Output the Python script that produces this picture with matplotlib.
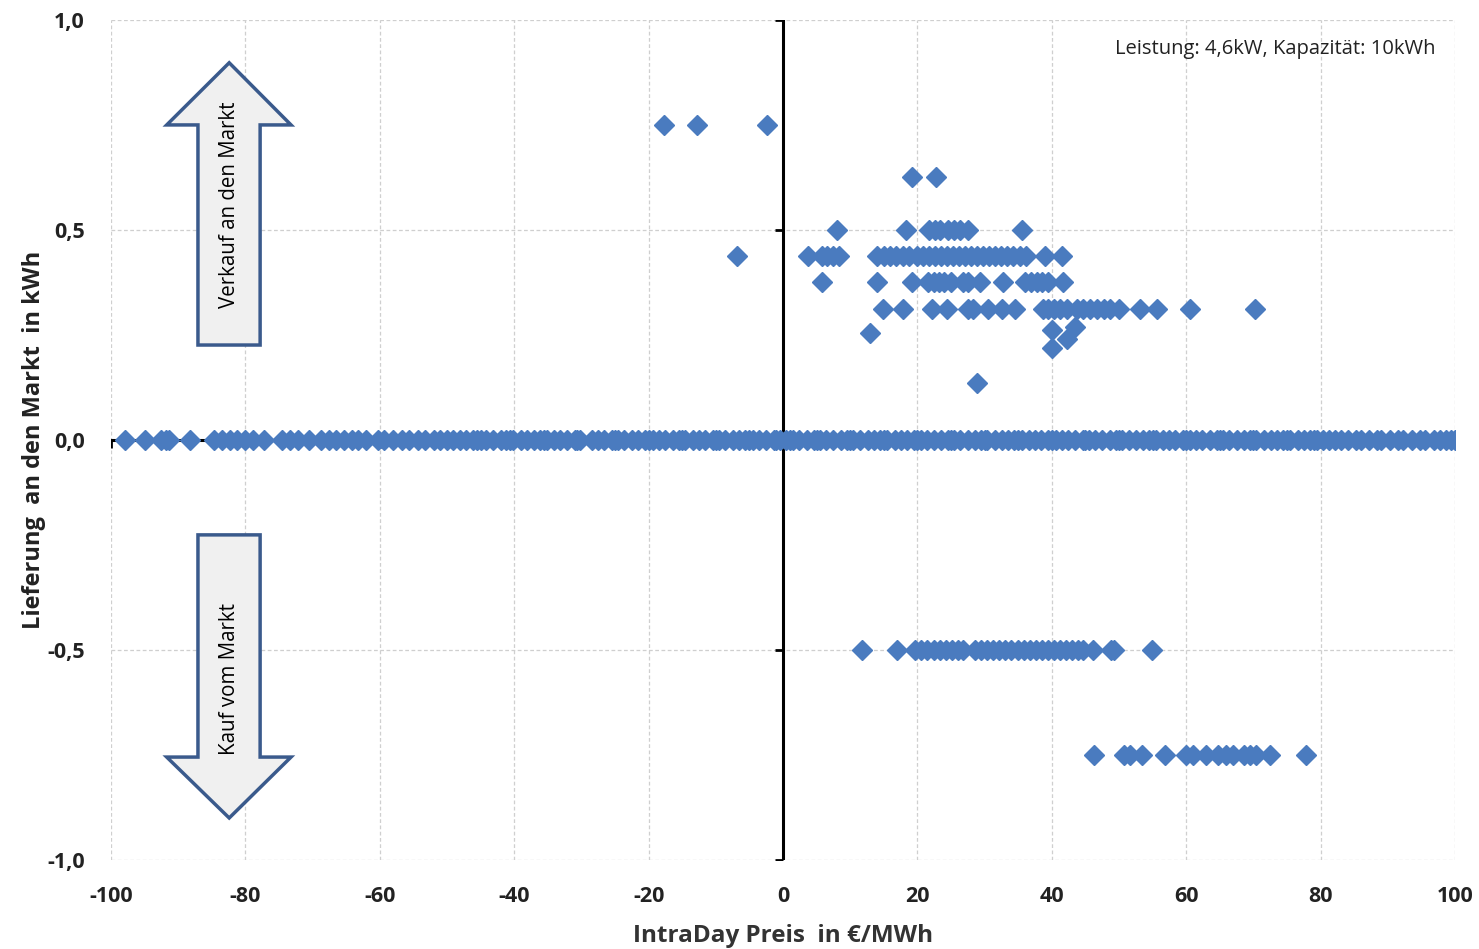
import matplotlib.pyplot as plt
from matplotlib.patches import Polygon

plt.rcParams['font.family'] = ['Open Sans', 'DejaVu Sans']

# Lieferung = 0 (the long row along the x axis)
zero_x = [-97.9, -94.9, -92.6, -91.8, -91.3, -88.2, -84.6, -83.5, -82.3, -81.2, -80.0, -78.9,
          -77.2, -74.5, -73.4, -72.1, -70.6, -68.8, -67.6, -66.5, -65.3, -64.2, -63.2, -62.1,
          -60.2, -59.3, -58.0, -56.7, -55.6, -54.3, -53.2, -51.9, -51.0,
          -50.0, -49.1, -48.0, -47.2, -46.1, -45.0, -44.2, -43.1, -42.0, -41.2, -40.1, -39.0,
          -38.1, -37.0, -36.2, -35.1, -34.0, -33.2, -32.1, -31.0, -30.2, -28.4, -27.5, -26.6,
          -25.4, -24.5, -23.6, -22.4, -21.5, -20.6, -19.4, -18.5, -17.6, -16.4, -15.5, -14.6,
          -13.4, -12.5, -11.6, -10.4, -9.5, -8.6, -7.4, -6.5, -5.6, -4.4, -3.5, -2.6, -1.4,
          -0.5, 0.4, 1.5, 2.4, 3.5, 4.6, 5.5, 6.4, 7.5, 8.6, 9.5, 10.4, 11.5, 12.6, 13.5,
          14.4, 15.5, 16.6, 17.5, 18.4, 19.5, 20.6, 21.5, 22.4, 23.5, 24.6, 25.5, 26.4, 27.5,
          28.6, 29.5, 30.4, 31.5, 32.6, 33.5, 34.4, 35.5, 36.6, 37.5, 38.4, 39.5, 40.6, 41.5,
          42.4, 43.5, 44.6, 45.5, 46.4, 47.5, 48.6, 49.5, 50.4, 51.5, 52.6, 53.5, 54.4, 55.5,
          56.6, 57.5, 58.4, 59.5, 60.6, 61.5, 62.4, 63.5, 64.6, 65.5, 66.4, 67.5, 68.6, 69.5,
          70.4, 71.5, 72.6, 73.5, 74.4, 75.5, 76.6, 77.5, 78.4, 79.5, 80.4, 81.2, 82.2, 83.0,
          84.1, 85.3, 86.0, 87.2, 88.4, 89.0, 90.3, 91.5, 92.2, 93.6, 94.8, 95.5, 96.9, 97.8,
          98.6, 99.4, 100.0]
# extra overlapping prices in the busiest stretch of the zero row
zero_x_dense = [-45.6, -40.6, -35.6, -30.6, -25.0, -20.0, -15.0, -10.0, -5.0, -1.0, 1.0,
                5.0, 10.0, 15.0, 20.0, 25.0, 30.0, 35.0, 40.0, 45.0, 50.0, 55.0, 60.0, 65.0,
                70.0, 75.0, 79.0]

# Verkauf (positive rows)
x_075 = [-17.7, -12.8, -2.4]
x_0625 = [19.2, 22.8]
x_05 = [8.0, 18.3, 21.7, 22.6, 23.4, 24.5, 25.4, 26.4, 27.6, 35.6]
x_04375 = [-6.8, 3.7, 5.8, 6.6, 7.4, 8.3, 14.0, 15.0, 15.9, 16.8, 17.8, 18.8, 19.9, 20.8,
           21.7, 22.6, 23.5, 24.4, 25.3, 26.2, 27.1, 28.0, 28.9, 29.8, 30.7, 31.6, 32.5,
           33.4, 34.3, 35.2, 36.2, 39.0, 41.5]
x_0375 = [5.8, 14.0, 19.2, 21.6, 22.4, 23.2, 24.0, 25.0, 26.8, 27.6, 29.3, 32.7, 36.0,
          36.9, 37.8, 38.6, 39.4, 41.7]
x_03125 = [14.9, 17.9, 22.2, 24.4, 27.6, 28.2, 30.5, 32.6, 34.5, 38.7, 39.5, 40.3, 41.2,
           42.3, 43.8, 44.7, 45.7, 46.7, 47.7, 48.7, 50.0, 53.1, 55.7, 60.6, 70.2]
x_misc = [12.9, 40.0, 43.5, 42.3, 40.0, 28.9]
y_misc = [0.255, 0.262, 0.27, 0.24, 0.22, 0.135]

# Kauf (negative rows)
x_m05 = [11.7, 16.9, 19.7, 20.6, 21.5, 22.4, 23.3, 24.2, 25.1, 26.0, 26.8, 28.6, 29.5,
         30.4, 31.3, 32.2, 33.1, 34.0, 34.9, 35.8, 36.7, 37.6, 38.5, 39.4, 40.3, 41.2,
         42.1, 43.0, 43.9, 44.6, 46.1, 48.8, 49.3, 54.9]
x_m075 = [46.3, 50.7, 51.6, 53.4, 56.8, 60.0, 61.0, 62.9, 64.7, 65.9, 66.9, 68.6, 69.5,
          70.4, 72.5, 77.8]

zero_all = zero_x + zero_x_dense
px = (zero_all + x_075 + x_0625 + x_05 + x_04375 + x_0375 + x_03125 + x_misc + x_m05 + x_m075)
py = ([0.0] * len(zero_all) + [0.75] * len(x_075) + [0.625] * len(x_0625) + [0.5] * len(x_05)
      + [0.4375] * len(x_04375) + [0.375] * len(x_0375) + [0.3125] * len(x_03125) + y_misc
      + [-0.5] * len(x_m05) + [-0.75] * len(x_m075))

xticks = [-100, -80, -60, -40, -20, 0, 20, 40, 60, 80, 100]
yticks = [-1.0, -0.5, 0.0, 0.5, 1.0]
ytick_labels = ['-1,0', '-0,5', '0,0', '0,5', '1,0']

fig = plt.figure(figsize=(14.79, 9.49), dpi=100)
ax = fig.add_axes([0.075, 0.0938, 0.9088, 0.8852])

ax.set_xlim(-100, 100)
ax.set_ylim(-1, 1)
for s in ax.spines.values():
    s.set_visible(False)

ax.grid(True, color='#cfcfcf', linestyle=(0, (3, 2)), linewidth=0.9)
ax.set_axisbelow(True)

# axes crossing at zero, like Excel
ax.axvline(0, color='black', lw=2.2, zorder=2)
ax.axhline(0, color='black', lw=2.2, zorder=2)
ax.plot([0] * len(yticks), yticks, ls='none', marker=0, ms=6, mew=2, color='black', zorder=2)
ax.plot(xticks, [0] * len(xticks), ls='none', marker=3, ms=6, mew=2, color='black', zorder=2)

ax.plot(px, py, ls='none', marker='D', ms=10.3, color='#4a7bbf', mec='#4a7bbf', zorder=3)

ax.set_xticks(xticks)
ax.set_xticklabels([str(t) for t in xticks])
ax.set_yticks(yticks)
ax.set_yticklabels(ytick_labels)
ax.tick_params(length=0, labelsize=15.5, pad=19, colors='#222222')
for lab in ax.get_xticklabels() + ax.get_yticklabels():
    lab.set_fontweight('bold')

ax.set_xlabel('IntraDay Preis  in €/MWh', fontsize=17.5, fontweight='bold', color='#333333', labelpad=12)
ax.set_ylabel('Lieferung  an den Markt  in kWh', fontsize=17, fontweight='bold', color='#222222', labelpad=1)

ax.text(0.9855, 0.9655, 'Leistung: 4,6kW, Kapazität: 10kWh', transform=ax.transAxes,
        ha='right', va='center', fontsize=14.5, color='#222222')

# block arrows
up = [(-87.05, 0.226), (-77.8, 0.226), (-77.8, 0.75), (-73.2, 0.75), (-82.4, 0.898),
      (-91.7, 0.75), (-87.05, 0.75)]
down = [(-87.05, -0.226), (-77.8, -0.226), (-77.8, -0.755), (-73.2, -0.755), (-82.4, -0.9),
        (-91.7, -0.755), (-87.05, -0.755)]
for pts in (up, down):
    ax.add_patch(Polygon(pts, closed=True, facecolor='#f0f0f0', edgecolor='#3a5a8c',
                         lw=2.5, zorder=4))
ax.text(-82.4, 0.56, 'Verkauf an den Markt', rotation=90, ha='center', va='center',
        fontsize=14.8, zorder=5)
ax.text(-82.4, -0.57, 'Kauf vom Markt', rotation=90, ha='center', va='center',
        fontsize=14.8, zorder=5)

fig.savefig('out.png', dpi=100)
